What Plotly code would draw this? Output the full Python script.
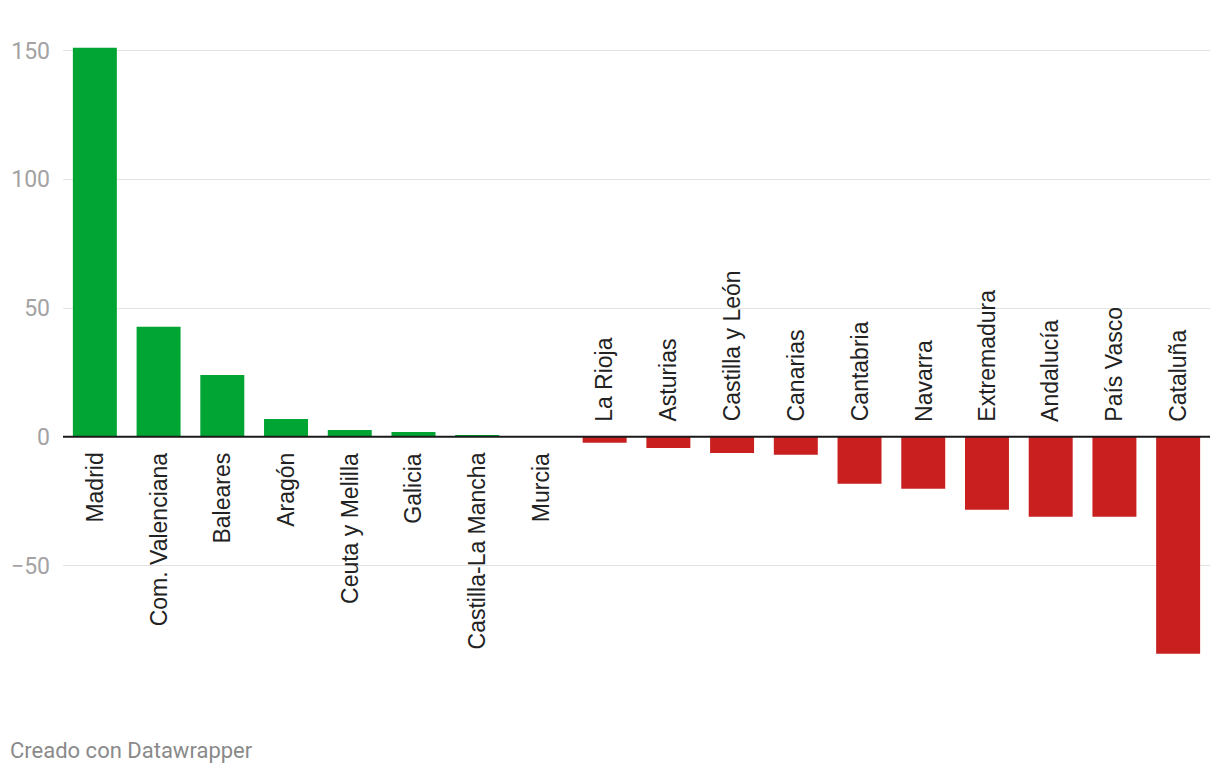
import plotly.graph_objects as go

categories = ["Madrid", "Com. Valenciana", "Baleares", "Aragón", "Ceuta y Melilla",
              "Galicia", "Castilla-La Mancha", "Murcia", "La Rioja", "Asturias",
              "Castilla y León", "Canarias", "Cantabria", "Navarra", "Extremadura",
              "Andalucía", "País Vasco", "Cataluña"]
values = [151.1, 42.7, 24.0, 6.9, 2.6, 1.8, 0.6, 0.0, -2.3, -4.4,
          -6.3, -7.0, -18.3, -20.2, -28.4, -31.1, -31.1, -84.3]
tick_vals = [-50, 0, 50, 100, 150]
tick_text = ["−50", "0", "50", "100", "150"]

GREEN = "#00a533"
RED = "#c91f1f"
colors = [GREEN if v >= 0 else RED for v in values]

# the page body has an 8px margin, so the figure is 8px smaller
W, H = 1212, 766
ML, MR, MT, MB = 55, 10, 22, 94

fig = go.Figure()
fig.add_trace(go.Bar(x=categories, y=values, marker=dict(color=colors, line=dict(width=0)),
                     hoverinfo="x+y"))

LABEL_FONT = dict(family="Liberation Sans, Arial, sans-serif", size=23, color="#222222")
annotations = []
for c, v in zip(categories, values):
    if v >= 0:
        annotations.append(dict(x=c, y=0, xref="x", yref="y", text=c, textangle=-90,
                                showarrow=False, yanchor="top", xanchor="center",
                                yshift=-14, font=LABEL_FONT))
    else:
        annotations.append(dict(x=c, y=0, xref="x", yref="y", text=c, textangle=-90,
                                showarrow=False, yanchor="bottom", xanchor="center",
                                yshift=13, font=LABEL_FONT))

pw = W - ML - MR
ph = H - MT - MB
annotations.append(dict(x=(0 - ML) / pw, y=-(742 - (H - MB)) / ph, xref="paper", yref="paper",
                        text="Creado con Datawrapper", showarrow=False, xanchor="left",
                        yanchor="middle", font=dict(family="Roboto", size=22, color="#8a8a8a")))

fig.update_layout(
    width=W, height=H,
    margin=dict(l=ML, r=MR, t=MT, b=MB),
    plot_bgcolor="white", paper_bgcolor="white",
    bargap=0.31,
    showlegend=False,
    font=dict(family="Roboto"),
    xaxis=dict(showticklabels=False, showgrid=False, zeroline=False, showline=False,
               ticks="", automargin=False),
    yaxis=dict(range=[-94.5, 158], tickvals=tick_vals, ticktext=tick_text,
               showgrid=True, gridcolor="#e3e3e3", gridwidth=1, zeroline=False,
               showline=False, ticks="", ticklabelstandoff=12, automargin=False,
               tickfont=dict(family="Roboto", size=23, color="#a3a3a3")),
    annotations=annotations,
    shapes=[dict(type="line", xref="paper", yref="y", x0=0, x1=1, y0=0, y1=0,
                 line=dict(color="#1a1a1a", width=2), layer="above")],
)

fig.write_html("out.html")
